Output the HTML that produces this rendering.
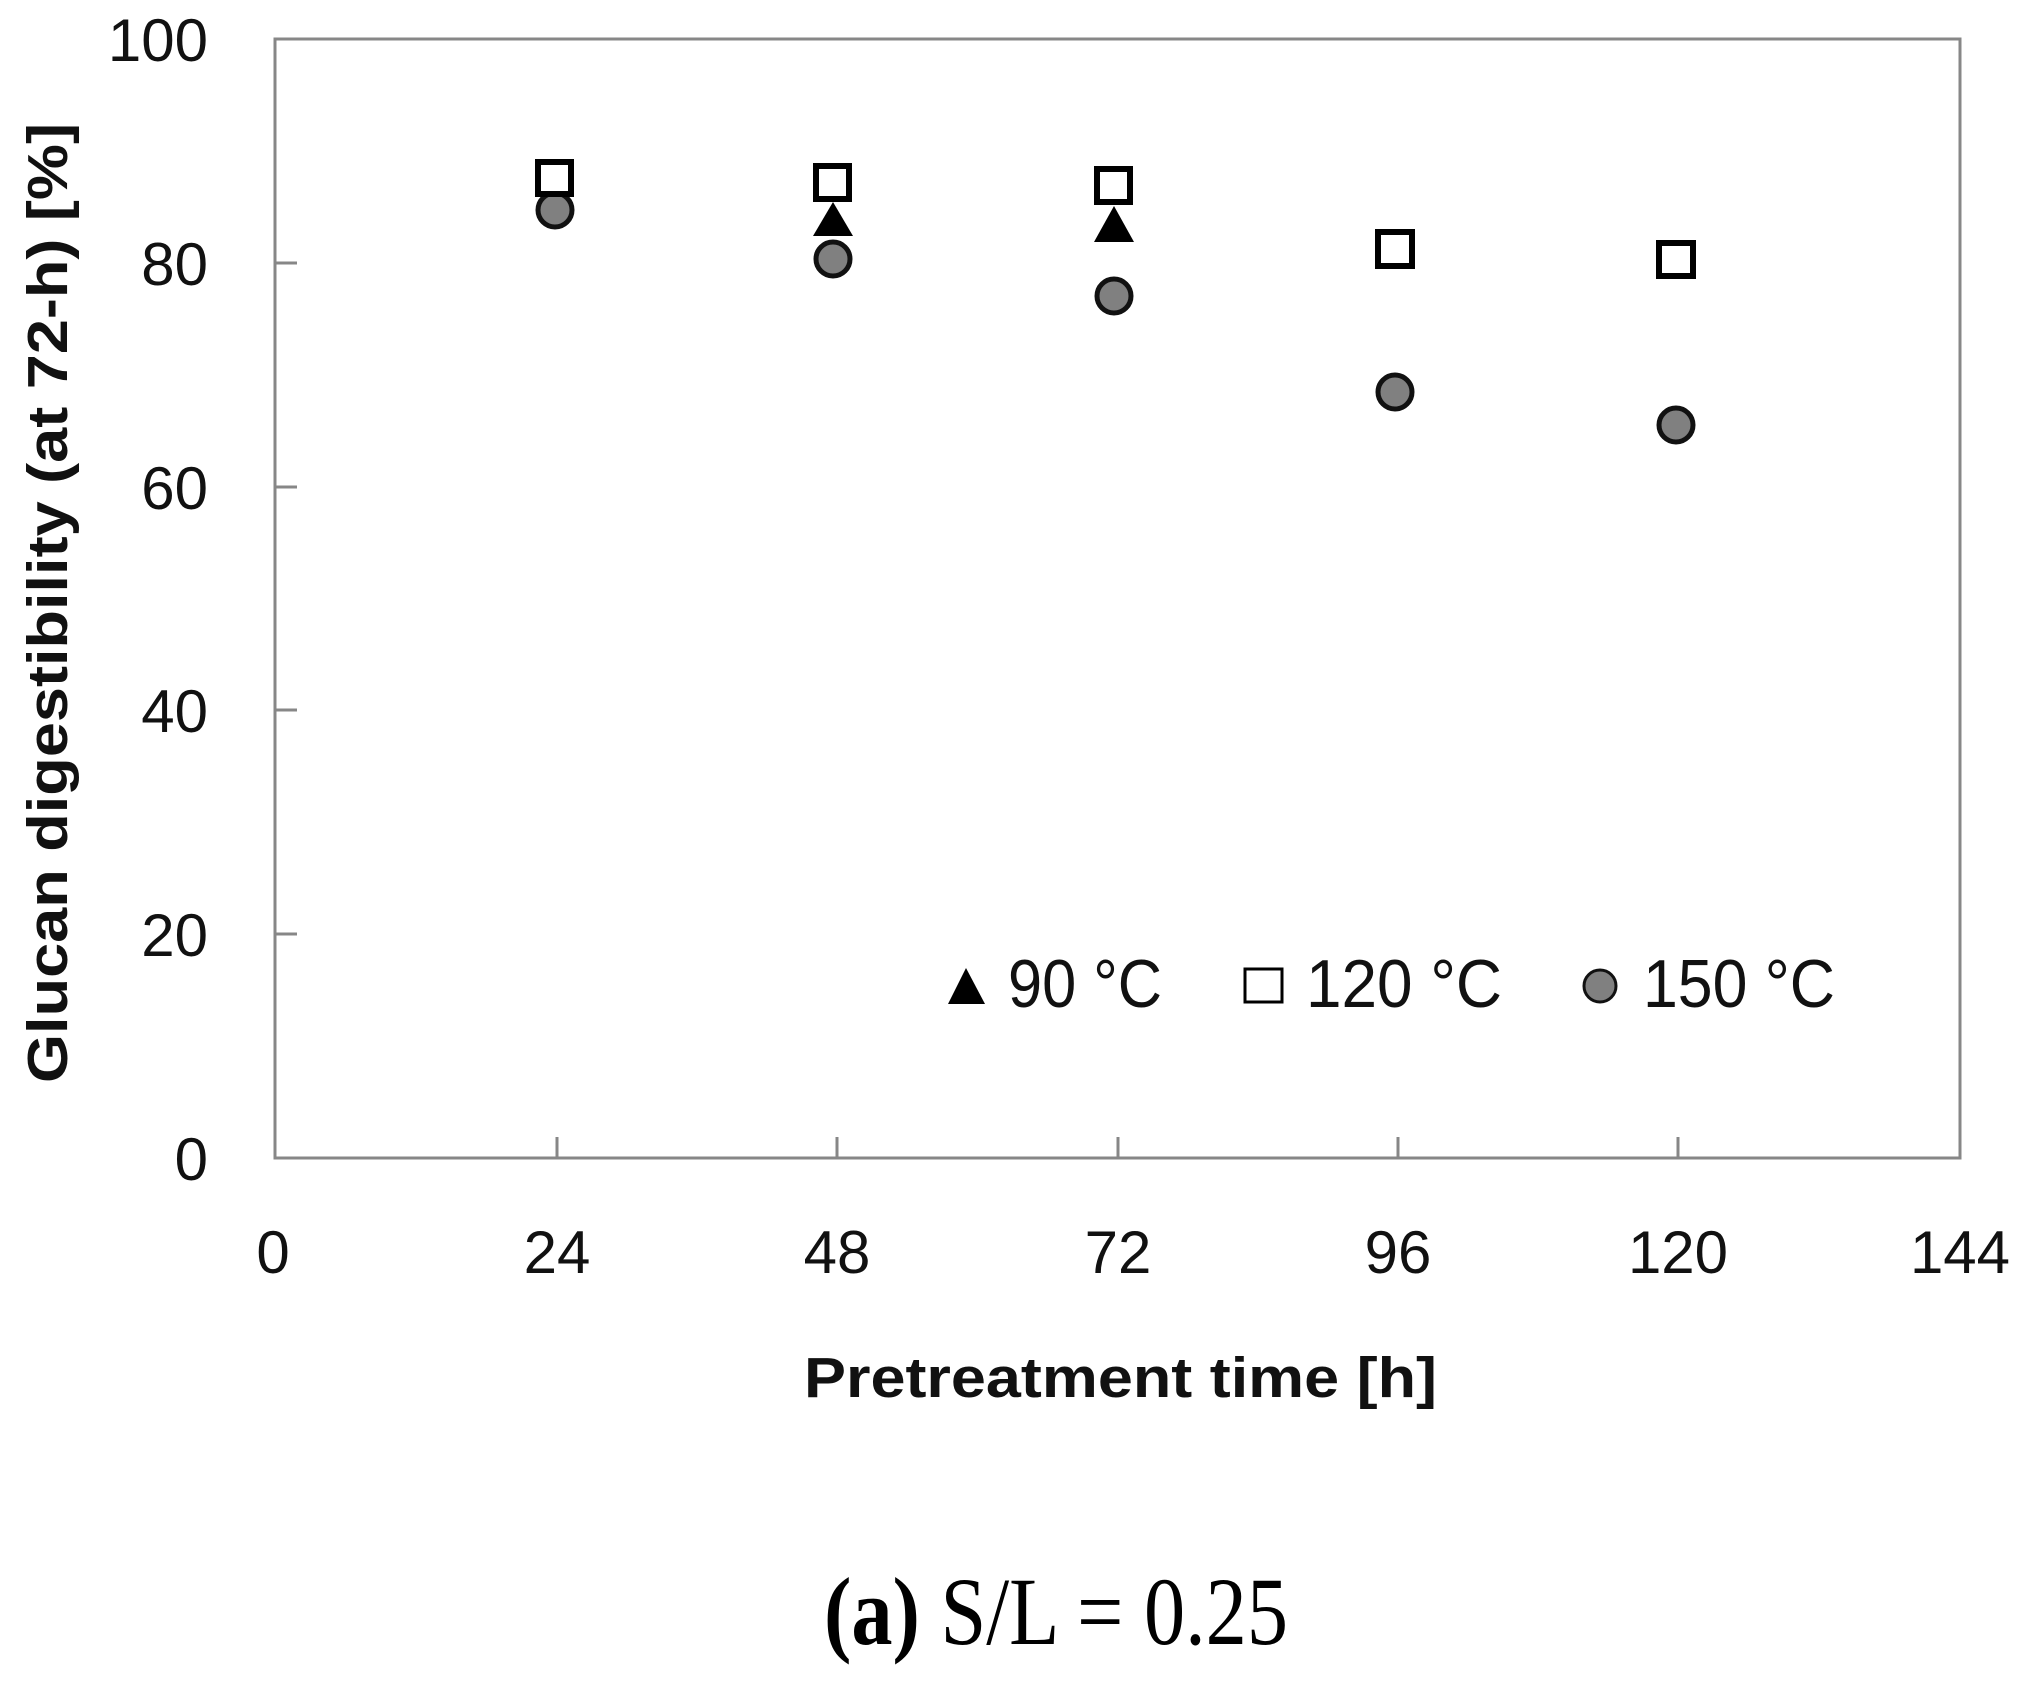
<!DOCTYPE html>
<html><head><meta charset="utf-8"><style>html,body{margin:0;padding:0;background:#fff}svg{display:block}</style></head>
<body>
<svg width="2027" height="1705" viewBox="0 0 2027 1705" xmlns="http://www.w3.org/2000/svg">
<rect width="2027" height="1705" fill="#fff"/>
<g stroke="#878787" stroke-width="3" fill="none">
<rect x="275" y="39" width="1685" height="1119"/>
<path d="M275 263h22M275 487h22M275 710h22M275 934h22"/>
<path d="M557 1158v-21M837 1158v-21M1118 1158v-21M1398 1158v-21M1678 1158v-21"/>
</g>
<g font-family="'Liberation Sans',sans-serif" font-size="60" fill="#111" text-anchor="end">
<text x="208" y="61">100</text><text x="208" y="285">80</text><text x="208" y="509">60</text>
<text x="208" y="732">40</text><text x="208" y="956">20</text><text x="208" y="1180">0</text>
</g>
<g font-family="'Liberation Sans',sans-serif" font-size="60" fill="#111" text-anchor="middle">
<text x="273" y="1273">0</text><text x="557" y="1273">24</text><text x="837" y="1273">48</text>
<text x="1118" y="1273">72</text><text x="1398" y="1273">96</text><text x="1678" y="1273">120</text><text x="1960" y="1273">144</text>
</g>
<text x="804" y="1397" font-family="'Liberation Sans',sans-serif" font-weight="bold" font-size="57" fill="#111" textLength="633" lengthAdjust="spacingAndGlyphs">Pretreatment time [h]</text>
<text transform="translate(67,1083) rotate(-90)" font-family="'Liberation Sans',sans-serif" font-weight="bold" font-size="57" fill="#111" textLength="960" lengthAdjust="spacingAndGlyphs">Glucan digestibility (at 72-h) [%]</text>
<text x="824" y="1644" font-family="'Liberation Serif',serif" font-size="96" fill="#000" textLength="464" lengthAdjust="spacingAndGlyphs"><tspan font-weight="bold">(a)</tspan> S/L = 0.25</text>
<g fill="#000">
<polygon points="833,202 813,236 853,236"/>
<polygon points="1114,206 1094,242 1134,242"/>
<polygon points="966,968 948,1004 985,1004"/>
</g>
<g fill="#808080" stroke="#111" stroke-width="5">
<circle cx="555" cy="210" r="17"/>
<circle cx="833" cy="259" r="17"/>
<circle cx="1114" cy="296" r="17"/>
<circle cx="1395" cy="392" r="17"/>
<circle cx="1676" cy="425" r="17"/>
<circle cx="1600" cy="986" r="16" stroke-width="3"/>
</g>
<g fill="#fff" stroke="#000" stroke-width="6">
<rect x="538" y="162" width="33" height="32"/>
<rect x="816" y="166" width="33" height="33"/>
<rect x="1097" y="169" width="33" height="33"/>
<rect x="1378" y="232" width="34" height="34"/>
<rect x="1659" y="243" width="34" height="33"/>
<rect x="1245" y="969" width="37" height="33" stroke-width="3"/>
</g>
<g font-family="'Liberation Sans',sans-serif" font-size="68" fill="#111">
<text x="1008" y="1007" textLength="154" lengthAdjust="spacingAndGlyphs">90 °C</text>
<text x="1306" y="1007" textLength="196" lengthAdjust="spacingAndGlyphs">120 °C</text>
<text x="1643" y="1007" textLength="192" lengthAdjust="spacingAndGlyphs">150 °C</text>
</g>
</svg>
</body></html>
